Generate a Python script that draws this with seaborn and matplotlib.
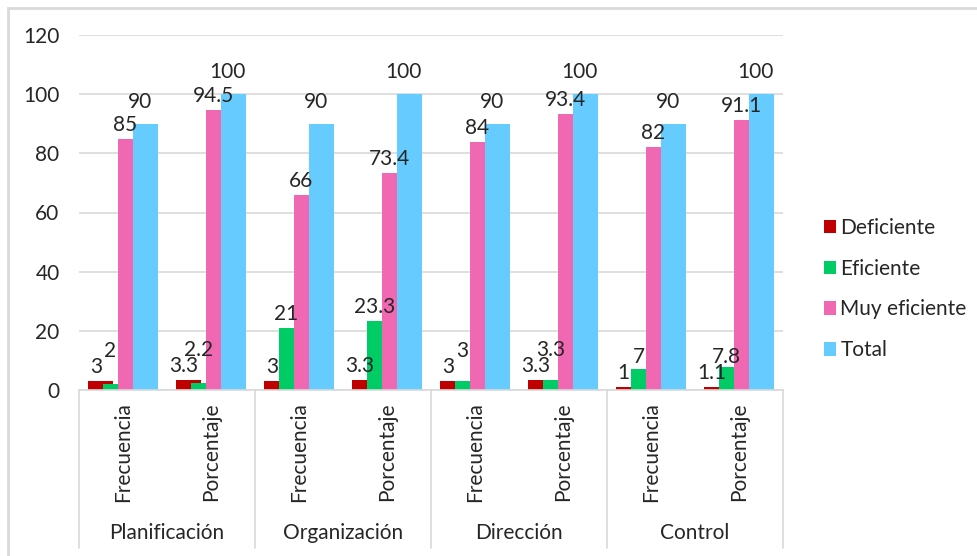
import matplotlib
matplotlib.use("Agg")
import matplotlib.pyplot as plt
import matplotlib.transforms as mtransforms
from matplotlib.lines import Line2D
from matplotlib.patches import Patch, Rectangle
import seaborn as sns
import pandas as pd

# datos
grupos = ["Planificación", "Organización", "Dirección", "Control"]
medidas = ["Frecuencia", "Porcentaje"]
series = ["Deficiente", "Eficiente", "Muy eficiente", "Total"]

deficiente = [3, 3.3, 3, 3.3, 3, 3.3, 1, 1.1]
eficiente = [2, 2.2, 21, 23.3, 3, 3.3, 7, 7.8]
muy_eficiente = [85, 94.5, 66, 73.4, 84, 93.4, 82, 91.1]
total = [90, 100, 90, 100, 90, 100, 90, 100]

colores = ["#C00000", "#00CC66", "#F068B2", "#66CCFF"]
y_ticks = [0, 20, 40, 60, 80, 100, 120]

# tabla larga para seaborn
claves = [f"{g}|{m}" for g in grupos for m in medidas]
filas = []
for serie, valores in zip(series, [deficiente, eficiente, muy_eficiente, total]):
    for clave, v in zip(claves, valores):
        filas.append({"categoria": clave, "serie": serie, "valor": v})
df = pd.DataFrame(filas)

sns.set_style("white")
plt.rcParams["font.family"] = ["Lato", "DejaVu Sans"]
texto = "#262626"
fs = 15

fig = plt.figure(figsize=(9.77, 5.56), dpi=100)
ax = fig.add_axes([79 / 977, 1 - 390 / 556, 704 / 977, 355 / 556])

grupo_ancho = 0.668
sns.barplot(data=df, x="categoria", y="valor", hue="serie", order=claves,
            hue_order=series, palette=colores, width=grupo_ancho,
            saturation=1, ax=ax, legend=False)

# barras solapadas como en Excel: cada barra más ancha que el paso
paso = grupo_ancho / len(series)
ancho_barra = 0.284
corrimiento = (ancho_barra - paso) / 2
etiquetas = []
for i_s, cont in enumerate(ax.containers):
    for i_c, p in enumerate(cont.patches):
        p.set_edgecolor("none")
        izq = p.get_x() - corrimiento
        p.set_x(izq)
        p.set_width(ancho_barra)
        etiquetas.append((i_c, i_s, izq + paso / 2, p.get_height()))

ax.set_ylim(0, 120)
ax.set_xlim(-0.5, len(claves) - 0.5)
ax.set_yticks(y_ticks)
ax.yaxis.grid(True, color="#D9D9D9", linewidth=1.2)
ax.set_axisbelow(True)
for s in ["top", "right", "left"]:
    ax.spines[s].set_visible(False)
ax.spines["bottom"].set_color("#D9D9D9")
ax.spines["bottom"].set_linewidth(1.2)
ax.set_xlabel("")
ax.set_ylabel("")
ax.tick_params(axis="y", length=0, pad=14, labelsize=fs, labelcolor=texto)
ax.tick_params(axis="x", length=0, pad=9, labelsize=fs, labelcolor=texto)
ax.set_xticks(range(len(claves)))
ax.set_xticklabels([m for g in grupos for m in medidas], rotation=90, va="top")

# eje de categorías en dos niveles
trans = mtransforms.blended_transform_factory(ax.transData, ax.transAxes)
for k in range(len(grupos) + 1):
    x = -0.5 + 2 * k
    ax.add_line(Line2D([x, x], [0, -0.445], transform=trans, color="#D9D9D9",
                       linewidth=1.2, clip_on=False))
for k, g in enumerate(grupos):
    ax.text(2 * k + 0.5, -0.403, g, transform=trans, ha="center", va="center",
            fontsize=fs, color=texto)

# etiquetas de datos, subiendo las que chocan
fig.canvas.draw()
render = fig.canvas.get_renderer()
px = 72 / fig.dpi
margen = 3
colocadas = {}
for i_c, i_s, centro, valor in etiquetas:
    desp = 12 if series[i_s] == "Total" else 4
    t = ax.annotate(f"{valor:g}", (centro, valor), xytext=(0, desp * px),
                    textcoords="offset points", ha="center", va="bottom",
                    fontsize=fs, color=texto)
    caja = t.get_window_extent(render)
    for otra in colocadas.get(i_c, []):
        if (caja.x1 + margen > otra.x0 and caja.x0 - margen < otra.x1
                and caja.y0 < otra.y1 and caja.y1 > otra.y0):
            desp += otra.y1 - caja.y0 - 4
            t.set_position((0, desp * px))
            caja = t.get_window_extent(render)
    colocadas.setdefault(i_c, []).append(caja)

# leyenda
manejadores = [Patch(facecolor=c, edgecolor="none", label=s) for c, s in zip(colores, series)]
fig.legend(handles=manejadores, loc="upper left", bbox_to_anchor=(805 / 977, 1 - 199 / 556),
           frameon=False, fontsize=fs, handlelength=0.6, handleheight=0.6,
           handletextpad=0.2, labelspacing=1.0, labelcolor=texto)

# marco del área del gráfico (solo se ven los bordes superior e izquierdo)
fig.patches.append(Rectangle((8 / 977, -0.1), 1.2, 1 - 8 / 556 + 0.1, transform=fig.transFigure,
                             fill=False, edgecolor="#D9D9D9", linewidth=2))

fig.savefig("out.png", dpi=100)
